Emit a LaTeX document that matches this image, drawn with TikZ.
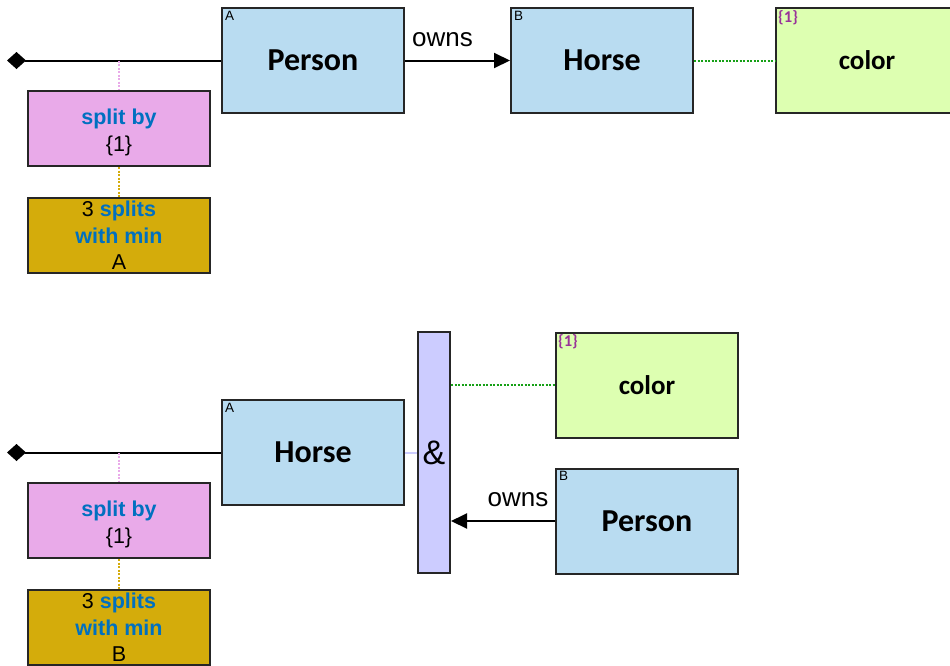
\documentclass[tikz,border=0pt]{standalone}
\usepackage{fontspec}
\setmainfont{Liberation Sans}
\newfontfamily\calibri{Carlito}
\usetikzlibrary{arrows.meta}

\definecolor{entblue}{HTML}{B9DCF1}
\definecolor{attrgreen}{HTML}{DDFFB1}
\definecolor{splitpink}{HTML}{E9AAE9}
\definecolor{splitgold}{HTML}{D4AC0B}
\definecolor{andblue}{HTML}{CCCCFF}
\definecolor{textblue}{HTML}{0070C0}
\definecolor{tagpurple}{HTML}{993399}
\definecolor{dotgreen}{HTML}{16A016}

\begin{document}
\begin{tikzpicture}[x=1pt,y=-1pt,
  box/.style={draw=black!85,line width=2pt,inner sep=0pt,align=center},
  entity/.style={box,fill=entblue,minimum width=182pt,minimum height=105pt,
    font=\calibri\bfseries\fontsize{32}{36}\selectfont},
  attr/.style={entity,fill=attrgreen,font=\calibri\bfseries\fontsize{27}{30}\selectfont},
  splitby/.style={box,fill=splitpink,minimum width=182pt,minimum height=75pt,
    font=\fontsize{21.5}{26.5}\selectfont},
  splits/.style={splitby,fill=splitgold},
  andbox/.style={box,fill=andblue,minimum width=32pt,minimum height=241pt,
    font=\fontsize{34}{38}\selectfont},
  tag/.style={anchor=north west,inner sep=0pt,font=\fontsize{13.5}{14}\selectfont},
  settag/.style={tag,text=tagpurple,font=\calibri\bfseries\fontsize{16.5}{17}\selectfont},
  rel/.style={line width=2pt,-{Triangle[length=16pt,width=15pt]}},
  root/.style={line width=2pt,{Diamond[length=19pt,width=17pt]}-},
  dots/.style={line width=2pt,dash pattern=on 2pt off 1.5pt},
  lbl/.style={font=\fontsize{26}{28}\selectfont,inner sep=0pt}]
  \useasboundingbox (0,0) rectangle (950,665);
  \clip (0,0) rectangle (950,665);
  % Person owns horse
  \node[entity] (person) at (313,60.5) {Person};
  \node[tag] (personA) at ([xshift=4pt,yshift=-4pt]person.north west) {A};
  \node[entity] (horse) at (602,60.5) {Horse};
  \node[tag] (horseB) at ([xshift=4pt,yshift=-4pt]horse.north west) {B};
  \node[attr] (color) at (867,60.5) {color};
  \node[settag] (colorset) at ([xshift=3pt,yshift=-3pt]color.north west) {\{1\}};
  \coordinate (start) at (7,60.5);
  \draw[root] (start) -- (person.west);
  \draw[rel] (person.east) -- (horse.west)
    node[lbl,midway,above=13pt,xshift=-15pt] (owns) {owns};
  \draw[dots,dotgreen] (horse.east) -- (color.west);
  % Split
  \node[splitby] (split) at (119,128.5)
    {\rule{0pt}{23pt}\textcolor{textblue}{\bfseries split by}\\\{1\}};
  \node[splits] (min) at (119,235.5)
    {3 \textcolor{textblue}{\bfseries splits}\\\textcolor{textblue}{\bfseries with min}\\A};
  \coordinate (splittop) at (119,60.5);
  \draw[dots,splitpink] (splittop) -- (split.north);
  \draw[dots,splitgold] (split.south) -- (min.north);
  % Horse and person owns it
  \node[entity] (horse2) at (313,452.5) {Horse};
  \node[tag] (horse2A) at ([xshift=4pt,yshift=-4pt]horse2.north west) {A};
  \node[andbox] (and) at (434,452.5) {\&};
  \node[attr] (color2) at (647,385) {color};
  \node[settag] (color2set) at ([xshift=3pt,yshift=-3pt]color2.north west) {\{1\}};
  \node[entity] (person2) at (647,521) {Person};
  \node[tag] (person2B) at ([xshift=4pt,yshift=-4pt]person2.north west) {B};
  \coordinate (start2) at (7,452.5);
  \draw[root] (start2) -- (horse2.west);
  \draw[line width=2pt,andblue] (horse2.east) -- (and.west);
  \draw[dots,dotgreen] (and.east |- color2.west) -- (color2.west);
  \draw[rel] (person2.west) -- (and.east |- person2.west)
    node[lbl,midway,above=13pt,xshift=15pt] (owns2) {owns};
  % Split
  \node[splitby] (split2) at (119,520.5)
    {\rule{0pt}{23pt}\textcolor{textblue}{\bfseries split by}\\\{1\}};
  \node[splits] (min2) at (119,627.5)
    {3 \textcolor{textblue}{\bfseries splits}\\\textcolor{textblue}{\bfseries with min}\\B};
  \coordinate (splittop2) at (119,452.5);
  \draw[dots,splitpink] (splittop2) -- (split2.north);
  \draw[dots,splitgold] (split2.south) -- (min2.north);
\end{tikzpicture}
\end{document}
